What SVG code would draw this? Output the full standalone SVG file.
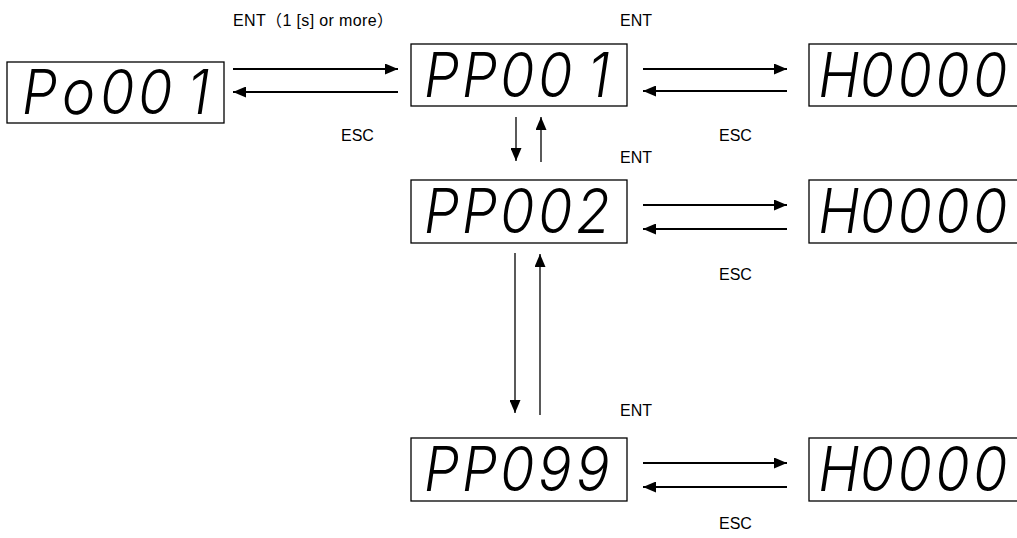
<svg xmlns="http://www.w3.org/2000/svg" width="1017" height="538" viewBox="0 0 1017 538">
<style>
.box{fill:#fff;stroke:#000;stroke-width:1.3}
.seg{font-family:Inter,"DejaVu Sans",sans-serif;font-weight:320;font-style:italic;font-size:62px;fill:#000}
.lbl{font-family:"Liberation Sans","Noto Sans CJK JP",sans-serif;font-size:16px;fill:#000}
.h{stroke:#000;stroke-width:2;fill:none}
.v{stroke:#000;stroke-width:1.3;fill:none}
</style>
<defs>
<marker id="ah" viewBox="0 0 13 11" refX="13" refY="5.5" markerWidth="13" markerHeight="11" markerUnits="userSpaceOnUse" orient="auto">
<path d="M0,0 L13,5.5 L0,11 Z" fill="#000"/>
</marker>
</defs>
<rect width="1017" height="538" fill="#fff"/>
<g id="n-po001"><rect class="box" x="7" y="62" width="217" height="61"/><text class="seg" transform="translate(22,114) scale(0.9,1)" x="0 44.4 86.7 128.9 184" y="0">Po001</text></g>
<g id="n-pp001"><rect class="box" x="411" y="44" width="216" height="62"/><text class="seg" transform="translate(424,97) scale(0.9,1)" x="0 42.2 84.4 126.7 182" y="0">PP001</text></g>
<g id="n-h1"><rect class="box" x="809" y="44" width="230" height="62"/><text class="seg" transform="translate(821,97) scale(0.9,1)" x="-3 43 85 127 169" y="0">H0000</text></g>
<g id="n-pp002"><rect class="box" x="411" y="180" width="216" height="63"/><text class="seg" transform="translate(424,233) scale(0.9,1)" x="0 42.2 84.4 126.7 168.9" y="0">PP002</text></g>
<g id="n-h2"><rect class="box" x="809" y="180" width="230" height="63"/><text class="seg" transform="translate(821,233) scale(0.9,1)" x="-3 43 85 127 169" y="0">H0000</text></g>
<g id="n-pp099"><rect class="box" x="411" y="438" width="216" height="63"/><text class="seg" transform="translate(424,491) scale(0.9,1)" x="0 42.2 84.4 126.7 168.9" y="0">PP099</text></g>
<g id="n-h3"><rect class="box" x="809" y="438" width="230" height="63"/><text class="seg" transform="translate(821,491) scale(0.9,1)" x="-3 43 85 127 169" y="0">H0000</text></g>
<g id="connectors">
<line class="h" x1="233" y1="69" x2="398" y2="69" marker-end="url(#ah)"/>
<line class="h" x1="398" y1="92" x2="233" y2="92" marker-end="url(#ah)"/>
<line class="h" x1="643" y1="69" x2="787" y2="69" marker-end="url(#ah)"/>
<line class="h" x1="787" y1="91" x2="643" y2="91" marker-end="url(#ah)"/>
<line class="h" x1="643" y1="205" x2="787" y2="205" marker-end="url(#ah)"/>
<line class="h" x1="787" y1="229" x2="643" y2="229" marker-end="url(#ah)"/>
<line class="h" x1="643" y1="463" x2="787" y2="463" marker-end="url(#ah)"/>
<line class="h" x1="787" y1="487" x2="643" y2="487" marker-end="url(#ah)"/>
<line class="v" x1="516" y1="117" x2="516" y2="161" marker-end="url(#ah)"/>
<line class="v" x1="541" y1="162" x2="541" y2="117" marker-end="url(#ah)"/>
<line class="v" x1="515" y1="253" x2="515" y2="413" marker-end="url(#ah)"/>
<line class="v" x1="540" y1="415" x2="540" y2="254" marker-end="url(#ah)"/>
</g>
<g id="labels">
<text class="lbl" x="233" y="26" textLength="160" lengthAdjust="spacing">ENT（1 [s] or more）</text>
<text class="lbl" x="620" y="26">ENT</text>
<text class="lbl" x="341" y="141">ESC</text>
<text class="lbl" x="719" y="141">ESC</text>
<text class="lbl" x="620" y="163">ENT</text>
<text class="lbl" x="719" y="280">ESC</text>
<text class="lbl" x="620" y="416">ENT</text>
<text class="lbl" x="719" y="529">ESC</text>
</g>
</svg>
